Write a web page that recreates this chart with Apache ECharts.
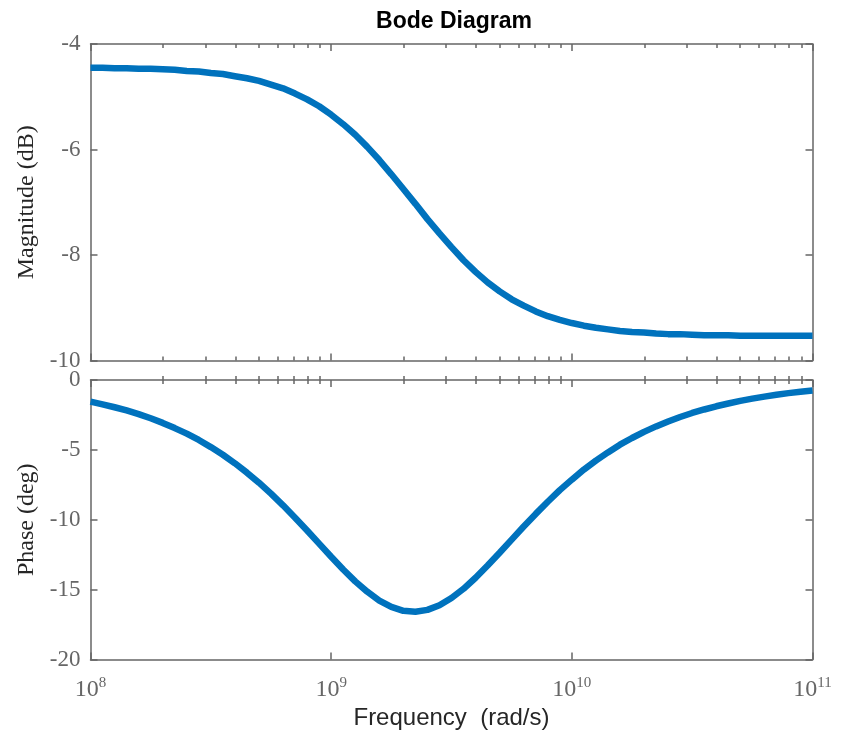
<!DOCTYPE html>
<html>
<head>
<meta charset="utf-8">
<script src="https://cdn.jsdelivr.net/npm/echarts@6/dist/echarts.min.js"></script>
<style>html,body{margin:0;padding:0;background:#fff}#c{width:844px;height:736px}</style>
</head>
<body>
<div id="c"></div>
<script>
// log10 of frequency (rad/s)
var logFreq = [8.00,8.05,8.10,8.15,8.20,8.25,8.30,8.35,8.40,8.45,8.50,8.55,8.60,8.65,8.70,8.75,8.80,8.85,8.90,8.95,
  9.00,9.05,9.10,9.15,9.20,9.25,9.30,9.35,9.40,9.45,9.50,9.55,9.60,9.65,9.70,9.75,9.80,9.85,9.90,9.95,
  10.00,10.05,10.10,10.15,10.20,10.25,10.30,10.35,10.40,10.45,10.50,10.55,10.60,10.65,10.70,10.75,10.80,10.85,10.90,10.95,11.00];
// magnitude (dB)
var magnitude = [-4.45,-4.45,-4.46,-4.46,-4.47,-4.47,-4.48,-4.49,-4.51,-4.52,-4.55,-4.57,-4.61,-4.65,-4.70,-4.77,-4.84,-4.94,-5.05,-5.18,
  -5.34,-5.52,-5.72,-5.95,-6.20,-6.47,-6.75,-7.03,-7.32,-7.59,-7.85,-8.10,-8.32,-8.52,-8.69,-8.84,-8.96,-9.07,-9.16,-9.23,
  -9.29,-9.34,-9.38,-9.41,-9.44,-9.46,-9.47,-9.49,-9.50,-9.50,-9.51,-9.52,-9.52,-9.52,-9.53,-9.53,-9.53,-9.53,-9.53,-9.53,-9.53];
// phase (deg)
var phase = [-1.55,-1.74,-1.95,-2.18,-2.44,-2.74,-3.07,-3.44,-3.84,-4.29,-4.80,-5.35,-5.96,-6.63,-7.35,-8.13,-8.97,-9.86,-10.77,-11.71,
  -12.65,-13.56,-14.41,-15.15,-15.78,-16.24,-16.52,-16.58,-16.45,-16.12,-15.60,-14.94,-14.15,-13.28,-12.36,-11.42,-10.48,-9.58,-8.71,-7.88,
  -7.13,-6.41,-5.77,-5.18,-4.63,-4.15,-3.71,-3.32,-2.97,-2.65,-2.36,-2.11,-1.88,-1.68,-1.49,-1.33,-1.19,-1.06,-0.94,-0.84,-0.75];
var decadeTicks = [8, 9, 10, 11];
var minorMult = [2,3,4,5,6,7,8,9];
var magTicks = {min: -10, max: -4, interval: 2};
var phaseTicks = {min: -20, max: 0, interval: 5};

var minorTicks = [];
decadeTicks.slice(0, -1).forEach(function (d) {
  minorMult.forEach(function (m) { minorTicks.push(d + Math.log10(m)); });
});

var axisColor = '#666666';
var lineStyle = {color: axisColor, width: 1.5};
var serif = '"Liberation Serif", "DejaVu Serif", serif';
var sans = '"Liberation Sans", Arial, sans-serif';

var grids = [
  {left: 90.5, right: 31.5, top: 44, height: 316.5},
  {left: 90.5, right: 31.5, top: 380, height: 279.5}
];

var xAxes = [], yAxes = [];
[0, 1].forEach(function (g) {
  ['bottom', 'top'].forEach(function (pos) {
    var isLabel = (g === 1 && pos === 'bottom');
    xAxes.push({
      type: 'value', gridIndex: g, position: pos, min: 8, max: 11, interval: 1,
      axisLine: {show: true, onZero: false, lineStyle: lineStyle},
      axisTick: {show: true, inside: true, length: 7, lineStyle: lineStyle},
      splitLine: {show: false},
      axisLabel: isLabel ? {
        show: true, margin: 16,
        formatter: function (v) { return '{b|10}{s|' + Math.round(v) + '}'; },
        rich: {
          b: {fontFamily: serif, fontSize: 24, color: '#666666'},
          s: {fontFamily: serif, fontSize: 15, color: '#666666', verticalAlign: 'top', padding: [0, 0, 14, 0]}
        }
      } : {show: false},
      name: isLabel ? 'Frequency  (rad/s)' : '',
      nameLocation: 'middle', nameGap: 47,
      nameTextStyle: {fontFamily: sans, fontSize: 24, color: '#262626'}
    });
    xAxes.push({
      type: 'value', gridIndex: g, position: pos, min: 8, max: 11,
      axisLine: {show: false},
      axisTick: {show: true, inside: true, length: 4, lineStyle: lineStyle, customValues: minorTicks},
      splitLine: {show: false},
      axisLabel: {show: false}
    });
  });
  var t = g === 0 ? magTicks : phaseTicks;
  ['left', 'right'].forEach(function (pos) {
    var isLabel = pos === 'left';
    yAxes.push({
      type: 'value', gridIndex: g, position: pos, min: t.min, max: t.max, interval: t.interval,
      axisLine: {show: true, onZero: false, lineStyle: lineStyle},
      axisTick: {show: true, inside: true, length: 7, lineStyle: lineStyle},
      splitLine: {show: false},
      axisLabel: {show: isLabel, margin: 10, fontFamily: serif, fontSize: 23, color: '#666666'},
      name: isLabel ? (g === 0 ? 'Magnitude (dB)' : 'Phase (deg)') : '',
      nameLocation: 'middle', nameGap: 48, nameRotate: 90,
      nameTextStyle: {fontFamily: serif, fontSize: 24, color: '#262626'}
    });
  });
});

var chart = echarts.init(document.getElementById('c'), null, {renderer: 'canvas'});
chart.setOption({
  animation: false,
  backgroundColor: '#ffffff',
  title: {
    text: 'Bode Diagram', left: 449, top: 5, textAlign: 'center',
    textStyle: {fontFamily: sans, fontSize: 23, fontWeight: 'bold', color: '#000000'}
  },
  grid: grids,
  xAxis: xAxes,
  yAxis: yAxes,
  series: [
    {type: 'line', xAxisIndex: 0, yAxisIndex: 0, showSymbol: false, symbol: 'none',
     data: logFreq.map(function (x, i) { return [x, magnitude[i]]; }),
     lineStyle: {color: '#0072BD', width: 6.5}},
    {type: 'line', xAxisIndex: 4, yAxisIndex: 2, showSymbol: false, symbol: 'none',
     data: logFreq.map(function (x, i) { return [x, phase[i]]; }),
     lineStyle: {color: '#0072BD', width: 6.5}}
  ]
});
</script>
</body>
</html>
